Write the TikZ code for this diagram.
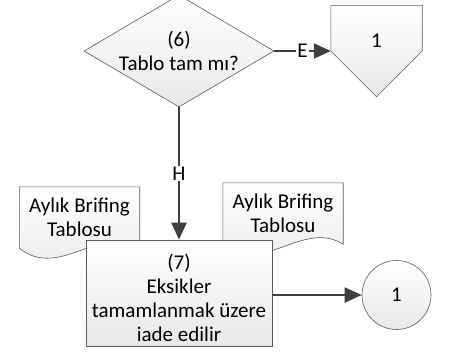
\documentclass[tikz,border=0pt]{standalone}
\usepackage{fontspec}
\setmainfont{Carlito}
\usetikzlibrary{shapes.geometric, arrows.meta, positioning, backgrounds}
\definecolor{linegray}{HTML}{404040}
\definecolor{edgegray}{HTML}{595959}
\tikzset {
    >={Triangle[length=17pt,width=15pt]},
    node distance=200pt,
    every node/.style={font=\fontsize{21}{24}\selectfont},
    shaded/.style={draw=edgegray, line width=0.6pt, top color=white, bottom color=black!9},
    decision/.style={shaded, diamond, aspect=1.7, minimum width=190pt, minimum height=112pt, inner sep=0pt, align=center},
    offpage/.style={rectangle, minimum width=91pt, minimum height=91pt, inner sep=0pt, text depth=21pt},
    process/.style={shaded, rectangle, minimum width=186pt, minimum height=106pt, inner sep=0pt, align=center},
    connector/.style={shaded, circle, minimum size=69pt, inner sep=0pt},
    document/.style={rectangle, minimum width=120pt, minimum height=61pt, inner sep=0pt, align=center},
    flow/.style={->, draw=linegray, line width=2pt},
    flow label/.style={fill=white, inner sep=1pt}
}

\begin{document}
\begin{tikzpicture}[x=1pt, y=-1pt]
    \useasboundingbox (0,0) rectangle (449,356);

    % documents behind the process box
    \node[document] (doc1) at (79.5,217.5) {Aylık Brifing\\Tablosu};
    \node[document] (doc2) at (283,213.5) {Aylık Brifing\\Tablosu};

    \node[decision] (d6) at (179,51) {(6)\\Tablo tam mı?};
    \node[offpage, right of=d6, node distance=197.5pt] (off1) {1};
    \node[process, below of=d6, node distance=242pt] (p7)
        {\rule{0pt}{26pt}(7)\\Eksikler\\tamamlanmak üzere\\iade edilir};
    \node[connector, right of=p7, node distance=217.5pt, yshift=-2pt] (con1) {1};

    \begin{scope}[on background layer]
        \path[shaded] (doc1.north west) -- (doc1.north east) -- (doc1.south east)
            .. controls +(-40,-25) and +(40,32) .. (doc1.south west) -- cycle;
        \path[shaded] (doc2.north west) -- (doc2.north east) -- (doc2.south east)
            .. controls +(-40,-25) and +(40,32) .. (doc2.south west) -- cycle;
        % off-page reference
        \path[shaded] (off1.north west) -- (off1.north east) -- (off1.east)
            -- (off1.south) -- (off1.west) -- cycle;
    \end{scope}

    \draw[flow] (d6.east) -- node[flow label]{E} (d6.east -| off1.west);
    \draw[flow] (d6) -- node[flow label]{H} (p7);
    \draw[flow] (p7.east |- con1) -- (con1);
\end{tikzpicture}
\end{document}
